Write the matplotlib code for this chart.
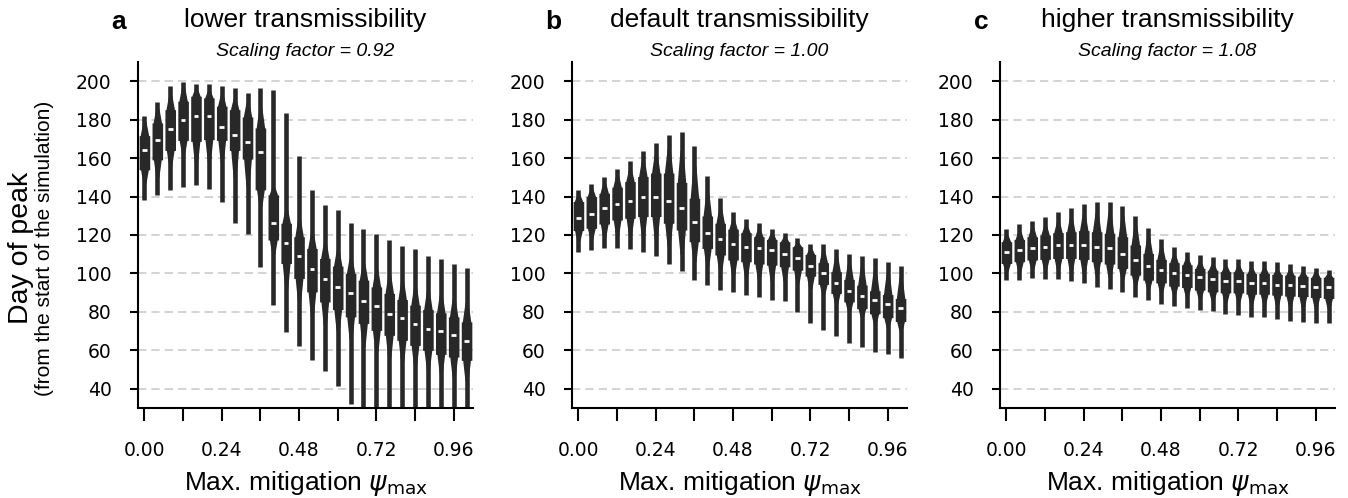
import matplotlib.pyplot as plt

# x categories: max. mitigation psi_max
psi = [0.00, 0.04, 0.08, 0.12, 0.16, 0.20, 0.24, 0.28, 0.32, 0.36, 0.40, 0.44, 0.48,
       0.52, 0.56, 0.60, 0.64, 0.68, 0.72, 0.76, 0.80, 0.84, 0.88, 0.92, 0.96, 1.00]

titles = ['lower transmissibility', 'default transmissibility', 'higher transmissibility']
factors = ['0.92', '1.00', '1.08']
letters = ['a', 'b', 'c']

# day of peak, letter values per psi
# panel a - scaling factor 0.92
a_lo = [138, 141, 143.5, 145, 146, 144, 137, 126, 120.5, 103.5, 83.5, 69.6, 62, 55, 49, 41.7, 32,
        25, 25, 25, 25, 25, 25, 25, 25, 25]
a_l2 = [147, 150, 156, 162, 157, 158, 158, 150, 145, 135, 110, 92, 85, 78, 73, 70, 66,
        62, 59, 56, 54, 52, 50, 48, 46, 44]
a_q1 = [153.9, 159.1, 164, 169.2, 168.7, 169.6, 169.2, 164, 159.5, 143.5, 117.4, 105.2, 97.4,
        90.4, 85.2, 81.2, 77.4, 74, 70.4, 67.8, 65.2, 62.6, 60, 57.9, 56.5, 54.8]
a_med = [164.3, 169.2, 175.1, 180, 182.1, 182.1, 176, 172, 168.2, 163.1, 126.1, 116, 109,
         102.1, 96.9, 92.9, 89.9, 85.9, 83, 78.8, 76.9, 73.9, 71, 69.9, 67.8, 64.9]
a_q3 = [171.7, 178.3, 185.2, 189.6, 192.2, 191.3, 187, 185.2, 181.4, 175.7, 140.9, 126.1, 119.1,
        113, 107.8, 103.8, 100, 96.5, 93, 89.6, 86.4, 83.5, 81.2, 79.5, 77.4, 74.8]
a_h2 = [179, 186, 193, 197, 196, 195, 193, 191, 189, 186, 145, 133, 128, 121, 116, 112, 108,
        105, 102, 99, 96, 93, 91, 89, 87, 85]
a_hi = [182.1, 189.2, 197.4, 199.5, 198.8, 198.3, 197.7, 196.5, 193.9, 196.5, 195.3, 183.5, 160.9,
        143.5, 135.7, 133, 126.1, 123, 120.5, 117.4, 114.4, 112.5, 109.2, 107.5, 104.7, 103]

# panel b - scaling factor 1.00
b_lo = [111.3, 112.2, 113, 113, 112.7, 111.3, 109, 104.9, 101.4, 96.5, 93.9, 91.3, 90.4, 88.7,
        87.5, 86.4, 85.6, 79.7, 74.4, 70.8, 67.3, 63.8, 61.7, 59, 58, 56]
b_l2 = [117, 118, 119, 120, 120, 119, 118, 114, 110, 106, 104, 101, 99, 98, 97, 96, 96, 95,
        92, 89, 84, 80, 77, 74, 72, 70]
b_q1 = [122.3, 123.5, 125.7, 127.8, 128.7, 129.6, 129.6, 126.1, 122.6, 116.5, 113, 109.6, 107,
        106.1, 104.9, 104.3, 103.5, 101.7, 98.6, 94.3, 89.6, 85.2, 81.7, 79, 77, 75]
b_med = [129, 131, 134.1, 136, 137.9, 140, 140, 137.9, 134.1, 127, 120.9, 117.9, 115.1, 113.9,
         113, 112, 110.1, 107.8, 103.8, 100, 94.8, 91.1, 88.2, 86, 84, 82]
b_q3 = [137.4, 140, 141.7, 144.9, 147.8, 150.4, 152.2, 152.2, 147.3, 139.1, 129.9, 126.1, 123,
        121.2, 119.1, 117.7, 116.5, 113.9, 109.9, 105.6, 100.9, 96.9, 93.9, 91, 89, 87]
b_h2 = [141, 144, 147, 151, 154, 159, 162, 165, 164, 156, 142, 134, 128, 125, 123, 121, 119,
        116, 113, 112, 109, 106, 104, 102, 100, 98]
b_hi = [143.5, 146.6, 150.1, 154.3, 158.3, 163.5, 167.8, 172.2, 173.4, 166.4, 150.8, 139.5, 132.2,
        128.2, 126.4, 123.1, 121.2, 118.3, 115.3, 115.3, 112.5, 109.9, 109, 108, 106, 104]

# panel c - scaling factor 1.08
c_lo = [96.5, 96.5, 97.4, 97, 97, 96.2, 94.8, 92.7, 91.7, 90.1, 87.8, 86.1, 84, 83.1, 82.1,
        81.2, 80.3, 79.1, 78.3, 77.4, 77.4, 76.5, 75.3, 75, 74, 74]
c_l2 = [101, 101, 102, 102, 102, 101, 100, 99, 98, 97, 94, 92, 90, 89, 88, 87, 86, 85, 85,
        84, 84, 83, 83, 82, 82, 82]
c_q1 = [105.2, 106.1, 107, 107.3, 107.8, 107.8, 107.3, 106.1, 104.9, 102.6, 99.1, 96.5, 95.1,
        93.4, 92.7, 91.3, 90.4, 89.9, 89.9, 89.2, 89.2, 88.7, 88.2, 88, 87.5, 87]
c_med = [111, 112, 113, 113.9, 115, 115, 115, 113.9, 113, 110.1, 107, 104, 101.9, 100, 99, 97.9,
         97, 96, 96, 94.9, 94.9, 93.9, 93.9, 93.5, 93, 93]
c_q3 = [116.5, 117.7, 119.1, 120, 121.2, 121.7, 122.3, 121.7, 120.9, 119.1, 114.8, 110.4, 107.3,
        105.6, 104.5, 102.6, 101.7, 100.9, 100.9, 100, 100, 99.5, 99.1, 98.5, 98, 98]
c_h2 = [120, 122, 124, 125, 127, 129, 131, 132, 132, 130, 125, 119, 114, 110, 108, 106, 105,
        104, 104, 103, 103, 102, 102, 101, 101, 100]
c_hi = [123.1, 125.6, 127.5, 129.6, 131.8, 133.9, 136.2, 137, 137, 135.3, 130.1, 123.8, 117.7,
        113.6, 111.3, 109.6, 108.7, 107.5, 107.5, 106.6, 106.4, 105.7, 104.9, 104, 103, 102]

panels = [(a_lo, a_l2, a_q1, a_med, a_q3, a_h2, a_hi),
          (b_lo, b_l2, b_q1, b_med, b_q3, b_h2, b_hi),
          (c_lo, c_l2, c_q1, c_med, c_q3, c_h2, c_hi)]

dark = '#282828'
W, H = 1348, 498
fig = plt.figure(figsize=(W / 100, H / 100), dpi=100)
lefts = [138, 572, 1000]

for p, (lo, l2, q1, med, q3, h2, hi) in enumerate(panels):
    ax = fig.add_axes([lefts[p] / W, 90 / H, 335 / W, 346 / H])
    ax.set_axisbelow(True)
    ax.yaxis.grid(True, ls='--', color='#cccccc', lw=1.2, dashes=(5, 3))
    for i in range(len(psi)):
        ys = [l2[i], q1[i], q1[i], q3[i], q3[i], h2[i]]
        hw = [0.12, 0.3, 0.41, 0.41, 0.33, 0.12]
        ax.vlines(i, lo[i], hi[i], color=dark, lw=3.3, zorder=2)
        ax.fill_betweenx(ys, [i - w for w in hw], [i + w for w in hw],
                         color=dark, lw=0, zorder=3)
        ax.hlines(med[i], i - 0.18, i + 0.18, color='white', lw=2, zorder=4)
    ax.set_xlim(-0.5, len(psi) - 0.5)
    ax.set_ylim(30, 210)
    ax.set_yticks(range(40, 201, 20))
    ax.set_xticks(range(0, len(psi), 6))
    ax.set_xticklabels(['%.2f' % psi[k] for k in range(0, len(psi), 6)])
    ax.set_xticks(range(3, len(psi), 6), minor=True)
    for s in ['top', 'right']:
        ax.spines[s].set_visible(False)
    ax.spines['left'].set_linewidth(1.5)
    ax.spines['bottom'].set_linewidth(1.5)
    ax.tick_params(axis='both', which='both', width=1.5, labelsize=13.5)
    for lab in ax.get_xticklabels() + ax.get_yticklabels():
        lab.set_family('DejaVu Sans')
    ax.tick_params(axis='x', which='both', length=9, pad=15)
    ax.tick_params(axis='y', length=6, pad=13)
    ax.set_xlabel(r'Max. mitigation $\psi_{\mathrm{max}}$', family='Liberation Sans',
                  fontsize=19, labelpad=6)
    cx = (lefts[p] + 167.5) / W
    fig.text(cx, 1 - 20 / H, titles[p], ha='center', va='center',
             family='Liberation Sans', fontsize=19)
    fig.text(cx, 1 - 52 / H, 'Scaling factor = ' + factors[p], ha='center', va='center',
             family='Liberation Sans', style='italic', fontsize=14)
    fig.text((lefts[p] - 19) / W, 1 - 22 / H, letters[p], ha='center', va='center',
             family='Liberation Sans', weight='bold', fontsize=19)

fig.text(21 / W, 250 / H, 'Day of peak', rotation=90, ha='center', va='center',
         family='Liberation Sans', fontsize=20.5)
fig.text(45 / W, 250 / H, '(from the start of the simulation)', rotation=90, ha='center',
         va='center', family='Liberation Sans', fontsize=15)

fig.savefig('out.png', dpi=100)
